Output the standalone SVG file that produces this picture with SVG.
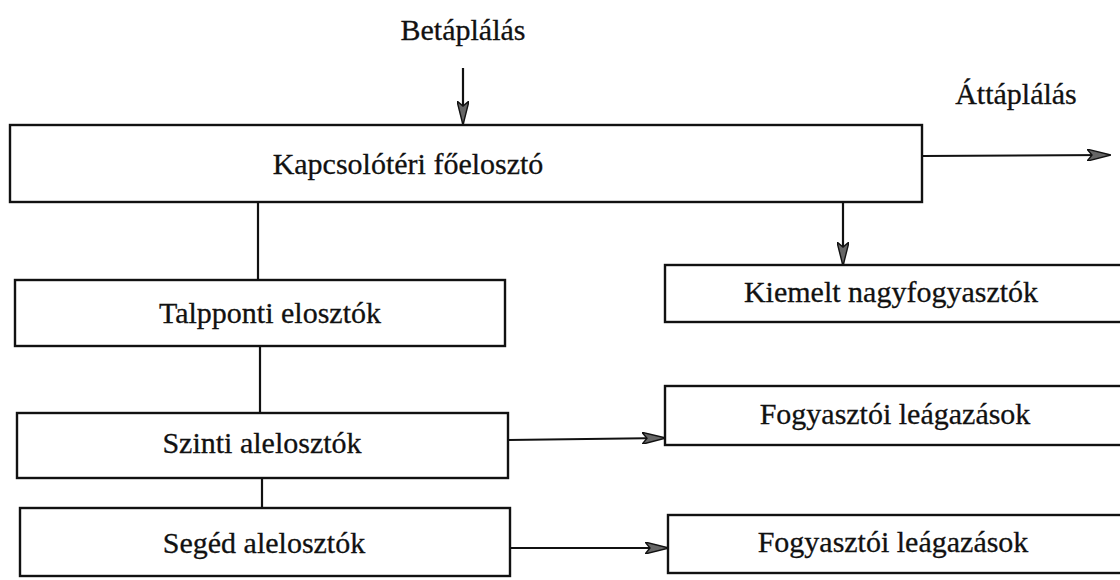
<svg xmlns="http://www.w3.org/2000/svg" width="1120" height="580" viewBox="0 0 1120 580">
<style>
.box{fill:#fff;stroke:#111;stroke-width:2.4}
.lbl{font-family:"Liberation Serif","DejaVu Serif",serif;font-size:30px;fill:#111;stroke:#111;stroke-width:0.3;text-anchor:middle}
.con{stroke:#111;stroke-width:2.2;fill:none}
</style>
<defs>
<marker id="ah" viewBox="0 0 24 12" refX="23" refY="6" markerWidth="24" markerHeight="12" markerUnits="userSpaceOnUse" orient="auto">
<path d="M0,0 L24,6 L0,12 L5,6 Z" fill="#666" stroke="#111" stroke-width="1.4"/>
</marker>
</defs>
<rect width="1120" height="580" fill="#fff"/>
<g id="connectors">
<line class="con" x1="463" y1="68" x2="463" y2="124" marker-end="url(#ah)"/>
<line class="con" x1="922" y1="156" x2="1110" y2="155" marker-end="url(#ah)"/>
<line class="con" x1="843" y1="202" x2="843" y2="265" marker-end="url(#ah)"/>
<line class="con" x1="258" y1="202" x2="258" y2="280"/>
<line class="con" x1="260" y1="346" x2="260" y2="413"/>
<line class="con" x1="262" y1="478" x2="262" y2="508"/>
<line class="con" x1="508" y1="440" x2="665" y2="438" marker-end="url(#ah)"/>
<line class="con" x1="510" y1="548" x2="668" y2="548" marker-end="url(#ah)"/>
</g>
<g id="label-betaplalas"><text class="lbl" x="463" y="40">Betáplálás</text></g>
<g id="label-attaplalas"><text class="lbl" x="1016" y="104">Áttáplálás</text></g>
<g id="node-main"><rect class="box" x="10" y="125" width="912" height="77"/><text class="lbl" x="408" y="174">Kapcsolótéri főelosztó</text></g>
<g id="node-kiemelt"><rect class="box" x="665" y="265" width="460" height="57"/><text class="lbl" x="891" y="302">Kiemelt nagyfogyasztók</text></g>
<g id="node-talpponti"><rect class="box" x="15" y="280" width="490" height="66"/><text class="lbl" x="270" y="323">Talpponti elosztók</text></g>
<g id="node-szinti"><rect class="box" x="17" y="413" width="491" height="65"/><text class="lbl" x="262" y="453">Szinti alelosztók</text></g>
<g id="node-fogy1"><rect class="box" x="665" y="386" width="460" height="59"/><text class="lbl" x="895" y="424">Fogyasztói leágazások</text></g>
<g id="node-seged"><rect class="box" x="20" y="508" width="490" height="68"/><text class="lbl" x="264" y="553">Segéd alelosztók</text></g>
<g id="node-fogy2"><rect class="box" x="668" y="515" width="460" height="58"/><text class="lbl" x="893" y="552">Fogyasztói leágazások</text></g>
</svg>
